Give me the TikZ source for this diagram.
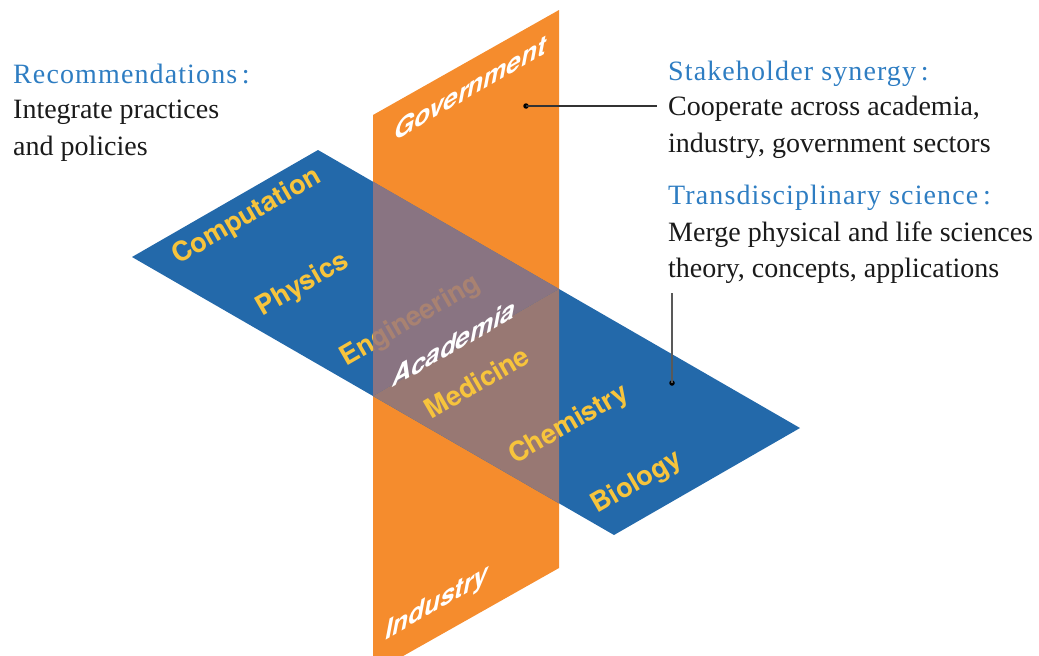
\documentclass[tikz,border=0pt]{standalone}
\usepackage{fontspec}
\setmainfont{Liberation Serif}
\newfontfamily\hv{TeX Gyre Heros}
\newfontfamily\headfont{Liberation Serif}[LetterSpace=4.0]
\definecolor{pblue}{HTML}{2369AA}
\definecolor{porange}{HTML}{F58C2D}
\definecolor{pveil}{HTML}{9C777B}
\definecolor{pbrown}{HTML}{987873}
\definecolor{pyellow}{HTML}{F7C43C}
\definecolor{headblue}{HTML}{2E7DC2}
\definecolor{txt}{HTML}{1A1A1A}
\tikzset{
  plabel/.style={font=\hv\bfseries\fontsize{27}{27}\selectfont, text=pyellow, rotate=30, inner sep=0pt},
  vlabel/.style={font=\hv\bfseries\itshape\fontsize{26}{26}\selectfont, text=white, yslant=0.577, inner sep=0pt},
  body/.style={font=\fontsize{28}{34}\selectfont, text=txt, anchor=base west, inner sep=0pt},
  head/.style={anchor=base west, inner sep=0pt, font=\headfont\fontsize{28}{34}\selectfont, text=headblue},
  dot/.style={circle, fill=black, inner sep=0pt, minimum size=5.5pt},
  conn/.style={draw=black!80, line width=1.2pt},
  conn2/.style={draw=black!65, line width=1.1pt}
}
\begin{document}
\begin{tikzpicture}[x=1pt,y=-1pt]
\useasboundingbox (0,0) rectangle (1039,656);
\clip (0,0) rectangle (1039,656);
% planes
\fill[porange] (373,115) -- (559,10) -- (559,568) -- (373,673) -- cycle;
\fill[pblue] (132,257) -- (318,150) -- (800,428) -- (614,535) -- cycle;
% labels behind the vertical plane
\node[plabel] (comp) at (247,217) {Computation};
\node[plabel] (phys) at (303,285) {Physics};
\node[plabel] (eng) at (411,321) {Engineering};
% overlap: vertical plane in front (upper), horizontal plane in front (lower)
\fill[pveil, fill opacity=0.85] (373,181.7) -- (559,289) -- (373,396) -- cycle;
\fill[pbrown] (373,396) -- (559,289) -- (559,503.3) -- cycle;
\node[plabel] (med) at (477,382) {Medicine};
\node[plabel] (chem) at (569,425) {Chemistry};
\node[plabel] (bio) at (637,483) {Biology};
% vertical plane labels
\node[vlabel] (gov) at (470,88) {Government};
\node[vlabel] (acad) at (454,343) {Academia};
\node[vlabel] (ind) at (437,604) {Industry};
% texts
\node[head] (r1) at (13,83) {Recommendations\,:};
\node[body] (r2) at (13,118) {Integrate practices};
\node[body] (r3) at (13,155) {and policies};
\node[head] (s1) at (668,80) {Stakeholder synergy\,:};
\node[body] (s2) at (668,115) {Cooperate across academia,};
\node[body] (s3) at (668,152) {industry, government sectors};
\node[head] (t1) at (668,204) {Transdisciplinary science\,:};
\node[body] (t2) at (668,241) {Merge physical and life sciences};
\node[body] (t3) at (668,277) {theory, concepts, applications};
% connectors
\node[dot] (d1) at (526,106) {};
\coordinate (e1) at (657,106);
\draw[conn] (d1.center) -- (e1);
\node[dot] (d2) at (672,383) {};
\coordinate (e2) at (672,293);
\draw[conn2] (e2) -- (d2.center);
\end{tikzpicture}
\end{document}
